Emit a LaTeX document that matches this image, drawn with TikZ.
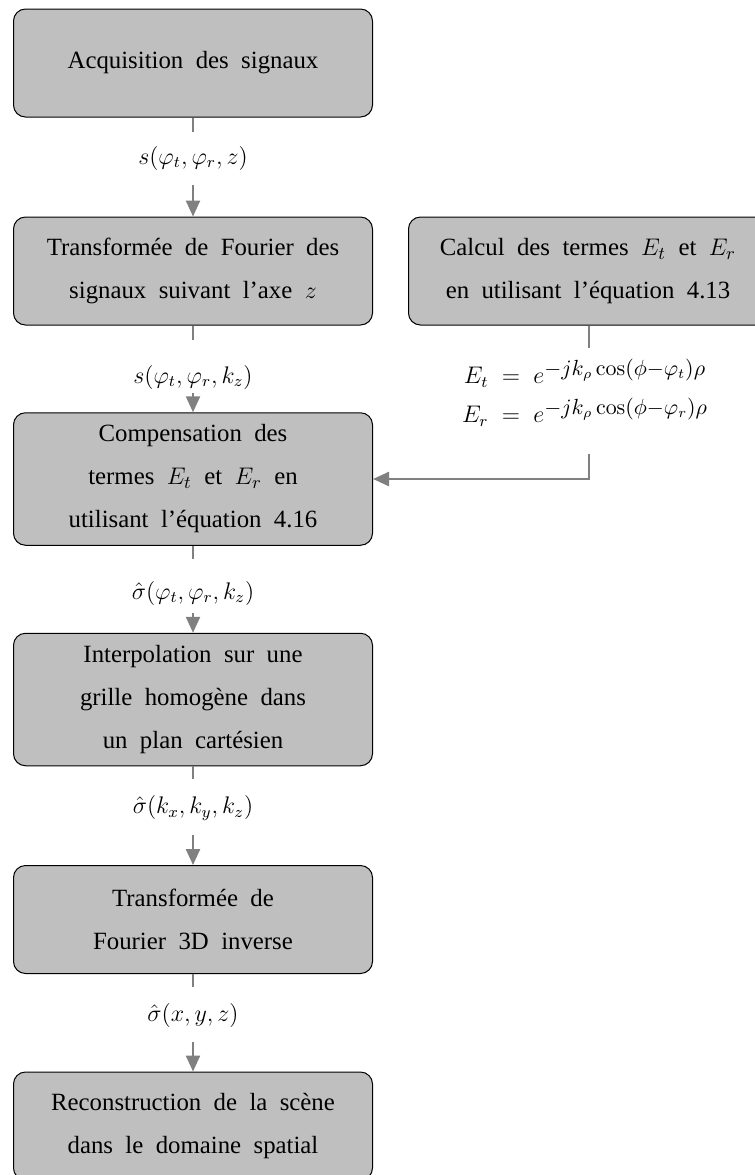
\documentclass[tikz,border=0pt,12pt]{standalone}
\usepackage[no-math]{fontspec}
\setmainfont{Liberation Serif}[WordSpace=2]
\usetikzlibrary{arrows.meta}
\newcommand{\bigexp}[1]{\mbox{\fontsize{10.5}{12}\selectfont$#1$}}
\begin{document}
\begin{tikzpicture}[x=0.5pt,y=-0.5pt,
  procbox/.style={draw=black, line width=0.5pt, rounded corners=6pt, fill=black!25,
    minimum width=179.5pt, minimum height=54pt, align=center, inner sep=6pt,
    font=\fontsize{12.4}{21.5}\selectfont},
  tallbox/.style={procbox, minimum height=66pt},
  lab/.style={inner sep=0pt, font=\fontsize{12}{14}\selectfont},
  conn/.style={draw=black!50, line width=1.2pt},
  arr/.style={conn, -{Triangle[length=8pt,width=7pt]}}
]
\useasboundingbox (0,0) rectangle (755,1175);

\node[procbox] (b1) at (193,63) {Acquisition des signaux};
\node[procbox] (b2) at (193,271) {Transformée de Fourier des\\signaux suivant l'axe $z$};
\node[procbox] (rb) at (588,271) {Calcul des termes $E_t$ et $E_r$\\en utilisant l'équation 4.13};
\node[tallbox] (b3) at (193,479) {Compensation des\\termes $E_t$ et $E_r$ en\\utilisant l'équation 4.16};
\node[tallbox] (b4) at (193,699.5) {Interpolation sur une\\grille homogène dans\\un plan cartésien};
\node[procbox] (b5) at (193,919.5) {Transformée de\\Fourier 3D inverse};
\node[procbox] (b6) at (193,1126) {Reconstruction de la scène\\dans le domaine spatial};

\node[lab] (l1) at (193,158) {$s(\varphi_t, \varphi_r, z)$};
\node[lab] (l2) at (193,377) {$s(\varphi_t, \varphi_r, k_z)$};
\node[lab] (l3) at (193,593) {$\hat{\sigma}(\varphi_t, \varphi_r, k_z)$};
\node[lab] (l4) at (193,808) {$\hat{\sigma}(k_x, k_y, k_z)$};
\node[lab] (l5) at (193,1015) {$\hat{\sigma}(x, y, z)$};

\node[lab] (et) at (585,373) {$E_t \;=\; e^{\bigexp{-jk_\rho\cos(\phi{-}\varphi_t)\rho}}$};
\node[lab] (er) at (585,412) {$E_r \;=\; e^{\bigexp{-jk_\rho\cos(\phi{-}\varphi_r)\rho}}$};
\coordinate (c) at (589,479);

\draw[conn, shorten >=7pt] (b1) -- (l1);
\draw[arr, shorten <=7.5pt] (l1) -- (b2);
\draw[conn, shorten >=12.5pt] (b2) -- (l2);
\draw[arr, shorten <=2pt] (l2) -- (b3);
\draw[conn, shorten >=11pt] (b3) -- (l3);
\draw[arr, shorten <=4pt] (l3) -- (b4);
\draw[conn, shorten >=8pt] (b4) -- (l4);
\draw[arr, shorten <=7pt] (l4) -- (b5);
\draw[conn, shorten >=8pt] (b5) -- (l5);
\draw[arr, shorten <=7.5pt] (l5) -- (b6);

\draw[conn, shorten >=5pt] (rb.south -| c) -- (et.north -| c);
\draw[arr, shorten <=13.5pt] (er.south -| c) -- (c) -- (b3.east);
\end{tikzpicture}
\end{document}
